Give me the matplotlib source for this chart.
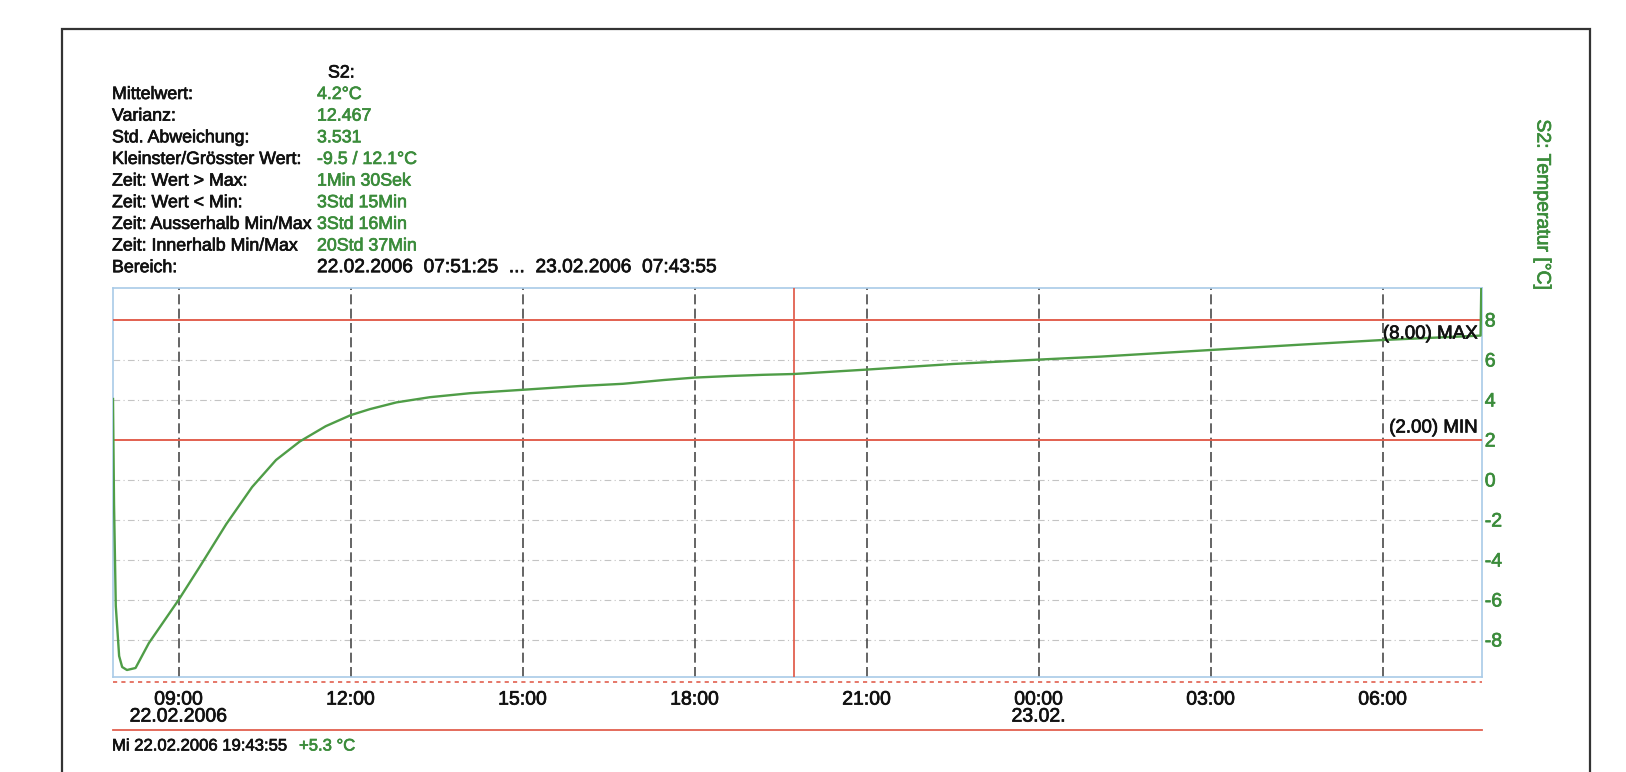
import pandas as pd
import matplotlib
matplotlib.use("Agg")
import matplotlib.pyplot as plt
import matplotlib.dates as mdates
import matplotlib.patheffects as pe
from matplotlib.lines import Line2D
from matplotlib.patches import Rectangle

plt.rcParams['font.family'] = ['Liberation Sans', 'DejaVu Sans']

# logger S2, temperature readings
times = [
    "2006-02-22 07:51:25", "2006-02-22 07:52:30", "2006-02-22 07:54:20",
    "2006-02-22 07:57:50", "2006-02-22 08:01:00", "2006-02-22 08:06:00",
    "2006-02-22 08:15:00", "2006-02-22 08:29:00", "2006-02-22 09:00:00",
    "2006-02-22 09:22:00", "2006-02-22 09:50:00", "2006-02-22 10:17:00",
    "2006-02-22 10:42:00", "2006-02-22 11:07:00", "2006-02-22 11:34:00",
    "2006-02-22 12:00:00", "2006-02-22 12:20:00", "2006-02-22 12:48:00",
    "2006-02-22 13:23:00", "2006-02-22 14:05:00", "2006-02-22 15:00:00",
    "2006-02-22 16:00:00", "2006-02-22 16:45:00", "2006-02-22 17:28:00",
    "2006-02-22 18:00:00", "2006-02-22 18:37:00", "2006-02-22 19:12:00",
    "2006-02-22 19:43:55", "2006-02-22 21:00:00", "2006-02-22 22:30:00",
    "2006-02-23 00:00:00", "2006-02-23 01:05:00", "2006-02-23 03:00:00",
    "2006-02-23 04:35:00", "2006-02-23 06:00:00", "2006-02-23 07:42:25",
    "2006-02-23 07:43:55",
]
temps = [
    4.05, -1.2, -6.3,
    -8.8, -9.35, -9.5,
    -9.4, -8.15, -6.0,
    -4.35, -2.2, -0.35,
    1.0, 1.93, 2.69,
    3.24, 3.54, 3.88,
    4.14, 4.34, 4.51,
    4.70, 4.81, 5.0,
    5.12, 5.2, 5.26,
    5.3, 5.52, 5.8,
    6.02, 6.17, 6.5,
    6.77, 7.0, 7.22,
    12.1,
]

range_start = "2006-02-22 07:51:25"
range_end = "2006-02-23 07:43:55"
cursor_time = "2006-02-22 19:43:55"
cursor_value = 5.3
limit_max = 8.0
limit_min = 2.0

tick_times = ["2006-02-22 09:00", "2006-02-22 12:00", "2006-02-22 15:00",
              "2006-02-22 18:00", "2006-02-22 21:00", "2006-02-23 00:00",
              "2006-02-23 03:00", "2006-02-23 06:00"]
tick_labels = ["09:00\n22.02.2006", "12:00", "15:00", "18:00", "21:00",
               "00:00\n23.02.", "03:00", "06:00"]
y_ticks = [-8, -6, -4, -2, 0, 2, 4, 6, 8]

stat_labels = ["Mittelwert:", "Varianz:", "Std. Abweichung:",
               "Kleinster/Grösster Wert:", "Zeit: Wert > Max:",
               "Zeit: Wert < Min:", "Zeit: Ausserhalb Min/Max",
               "Zeit: Innerhalb Min/Max", "Bereich:"]
stat_values = ["4.2°C", "12.467", "3.531", "-9.5 / 12.1°C", "1Min 30Sek",
               "3Std 15Min", "3Std 16Min", "20Std 37Min", None]
range_text = "22.02.2006  07:51:25  ...  23.02.2006  07:43:55"

GREEN = '#3b8c3b'
LINE_GREEN = '#4f9d47'
RED = '#e2604f'
BLUE = '#a9cbe8'

W, H = 1626, 772
fig = plt.figure(figsize=(W / 100, H / 100), dpi=100)


def px(x, y):
    return x / W, 1 - y / H


# outer page frame, open at the bottom edge
fig.add_artist(Rectangle(px(62, 860), (1590 - 62) / W, (860 - 29) / H,
                         transform=fig.transFigure, fill=False,
                         edgecolor='#333333', linewidth=1.6))

ax = fig.add_axes([113 / W, 1 - 677 / H, (1482 - 113) / W, (677 - 288) / H])

t = pd.to_datetime(times)
t0 = mdates.date2num(pd.Timestamp(range_start))
t1 = mdates.date2num(pd.Timestamp(range_end))

# grid
for y in y_ticks:
    if y in (limit_max, limit_min):
        continue
    ax.axhline(y, color='#c4c4c4', lw=0.8, ls=(0, (6, 3, 1, 3)), zorder=1)
for tt in tick_times:
    ax.axvline(pd.Timestamp(tt), color='#4a4a4a', lw=1.2, ls=(0, (6, 2.6)), zorder=2)

ax.axhline(limit_max, color=RED, lw=1.4, zorder=3)
ax.axhline(limit_min, color=RED, lw=1.4, zorder=3)
ax.axvline(pd.Timestamp(cursor_time), color=RED, lw=1.3, zorder=3)

ax.plot(t, temps, color=LINE_GREEN, lw=1.7, zorder=4)

ax.text(0.997, limit_max - 0.7, "(8.00) MAX", transform=ax.get_yaxis_transform(),
        ha='right', va='center', fontsize=13.5, color='#111111', zorder=5)
ax.text(0.997, limit_min + 0.6, "(2.00) MIN", transform=ax.get_yaxis_transform(),
        ha='right', va='center', fontsize=13.5, color='#111111', zorder=5)

ax.set_xlim(t0, t1)
ax.set_ylim(-9.85, 9.6)
ax.set_xticks([pd.Timestamp(s) for s in tick_times])
ax.set_xticklabels(tick_labels, fontsize=14, color='#111111', linespacing=1.0)
ax.set_yticks(y_ticks)
ax.set_yticklabels([str(v) for v in y_ticks], fontsize=14, color=GREEN)
ax.yaxis.tick_right()
ax.tick_params(axis='x', length=0, pad=10.5)
ax.tick_params(axis='y', length=0, pad=2)
for s in ax.spines.values():
    s.set_color(BLUE)
    s.set_linewidth(1.2)

# dashed line under the plot and the cursor status line
ax.add_line(Line2D([0, 1], [-0.013, -0.013], transform=ax.transAxes, color=RED,
                   lw=1.2, ls=(0, (2.5, 2.5)), clip_on=False))
ax.add_line(Line2D([0, 1], [-0.137, -0.137], transform=ax.transAxes, color=RED,
                   lw=1.3, clip_on=False))

fig.text(*px(112, 746), "Mi 22.02.2006 19:43:55", fontsize=12,
         color='#111111', va='center')
fig.text(*px(299, 746), f"+{cursor_value:.1f} °C", fontsize=12,
         color=GREEN, va='center')

# statistics block
fig.text(*px(328, 73), "S2:", fontsize=12.8, color='#111111', va='center')
for i, (lab, val) in enumerate(zip(stat_labels, stat_values)):
    y = 94.5 + i * 21.65
    fig.text(*px(112, y), lab, fontsize=12.8, color='#111111', va='center')
    if val is not None:
        fig.text(*px(317, y), val, fontsize=12.8, color=GREEN, va='center')
fig.text(*px(317, 94.5 + 8 * 21.65), range_text, fontsize=13.8,
         color='#111111', va='center')

fig.text(*px(1542, 205), "S2: Temperatur [°C]", rotation=-90, fontsize=14,
         color=GREEN, ha='center', va='center')

# slightly heavier strokes for all printed text
all_texts = fig.texts + ax.texts + ax.get_xticklabels() + ax.get_yticklabels()
for txt in all_texts:
    txt.set_path_effects([pe.withStroke(linewidth=0.5, foreground=txt.get_color())])

fig.savefig("out.png", dpi=100, facecolor='white')
